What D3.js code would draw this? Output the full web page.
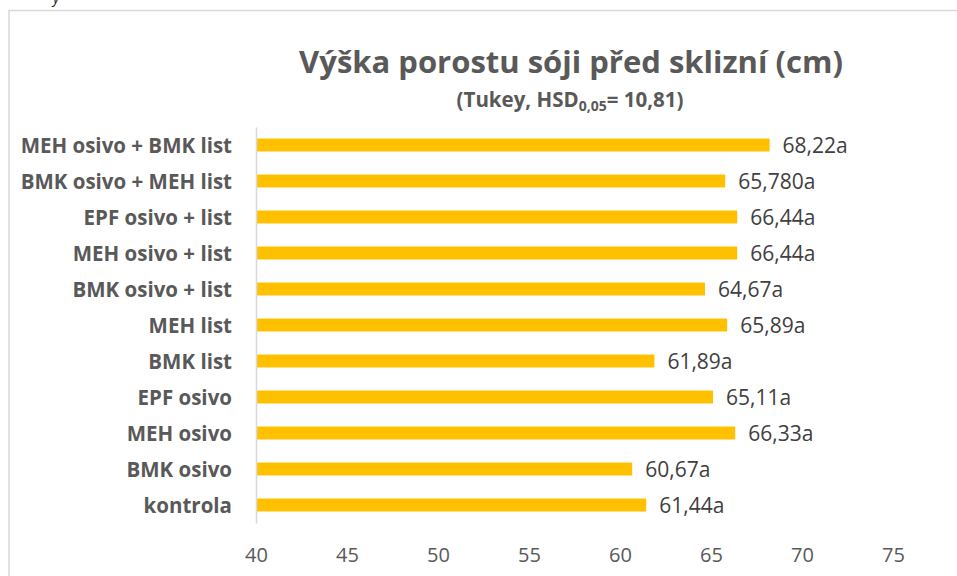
<!DOCTYPE html>
<html>
<head>
<meta charset="utf-8">
<script src="https://cdn.jsdelivr.net/npm/d3@7"></script>
<style>
  body { margin: 0; background: #fff; }
  svg { display: block; font-family: "Open Sans", Lato, sans-serif; }
</style>
</head>
<body>
<script>
// chart data, top to bottom
const categories = [
  "MEH osivo + BMK list", "BMK osivo + MEH list", "EPF osivo + list",
  "MEH osivo + list", "BMK osivo + list", "MEH list", "BMK list",
  "EPF osivo", "MEH osivo", "BMK osivo", "kontrola"
];
const values = [68.22, 65.78, 66.44, 66.44, 64.67, 65.89, 61.89, 65.11, 66.33, 60.67, 61.44];
const valueLabels = ["68,22a", "65,780a", "66,44a", "66,44a", "64,67a", "65,89a",
  "61,89a", "65,11a", "66,33a", "60,67a", "61,44a"];
const xTicks = [40, 45, 50, 55, 60, 65, 70, 75];

const width = 957;
const height = 576;
const textColor = "#595959";
const font = "'Open Sans', Lato, sans-serif";

const svg = d3.select("body").append("svg")
  .attr("width", width)
  .attr("height", height);

// chart border (cut off at the right and bottom)
svg.append("rect")
  .attr("x", 9)
  .attr("y", 10.5)
  .attr("width", 960)
  .attr("height", 600)
  .attr("fill", "none")
  .attr("stroke", "#d9d9d9")
  .attr("stroke-width", 1.5);

// stray glyph from the page above
svg.append("text")
  .attr("x", 53)
  .attr("y", 3)
  .attr("font-size", 14)
  .attr("font-style", "italic")
  .attr("fill", "#222")
  .text("y");

const x = d3.scaleLinear().domain([40, 75]).range([256, 893]);
const y = d3.scaleBand().domain(categories).range([127, 523])
  .paddingInner(0.64).paddingOuter(0.32);

// title
svg.append("text")
  .attr("x", 571)
  .attr("y", 73)
  .attr("text-anchor", "middle")
  .attr("font-size", 31)
  .attr("font-weight", "bold")
  .attr("fill", textColor)
  .text("Výška porostu sóji před sklizní (cm)");

const sub = svg.append("text")
  .attr("x", 570)
  .attr("y", 107)
  .attr("text-anchor", "middle")
  .attr("font-size", 20.5)
  .attr("font-weight", "bold")
  .attr("fill", textColor);
sub.append("tspan").text("(Tukey, HSD");
sub.append("tspan").attr("font-size", 14).attr("dy", 4).text("0,05");
sub.append("tspan").attr("dy", -4).text("= 10,81)");

// bars
svg.append("g")
  .selectAll("rect")
  .data(categories)
  .join("rect")
  .attr("x", x(40))
  .attr("y", d => y(d))
  .attr("width", (d, i) => x(values[i]) - x(40))
  .attr("height", y.bandwidth())
  .attr("fill", "#ffc000");

// value labels
svg.append("g")
  .selectAll("text")
  .data(categories)
  .join("text")
  .attr("x", (d, i) => x(values[i]) + 13)
  .attr("y", d => y(d) + y.bandwidth() / 2 + 7.5)
  .attr("font-size", 21)
  .attr("fill", "#404040")
  .text((d, i) => valueLabels[i]);

// category axis
const yAxis = svg.append("g")
  .attr("transform", `translate(${x(40)},0)`)
  .call(d3.axisLeft(y).tickSize(0).tickPadding(24));
yAxis.select(".domain")
  .attr("stroke", "#d9d9d9")
  .attr("stroke-width", 1.5);
yAxis.selectAll("text")
  .attr("font-family", font)
  .attr("font-size", 20.5)
  .attr("font-weight", "bold")
  .attr("dy", null)
  .attr("y", 7.5)
  .attr("fill", textColor);

// value axis (labels only)
const xAxis = svg.append("g")
  .attr("transform", "translate(0,562)")
  .call(d3.axisBottom(x).tickValues(xTicks).tickSize(0).tickPadding(0));
xAxis.select(".domain").remove();
xAxis.selectAll("text")
  .attr("font-family", font)
  .attr("font-size", 20)
  .attr("dy", null)
  .attr("y", 0)
  .attr("fill", textColor);
</script>
</body>
</html>
